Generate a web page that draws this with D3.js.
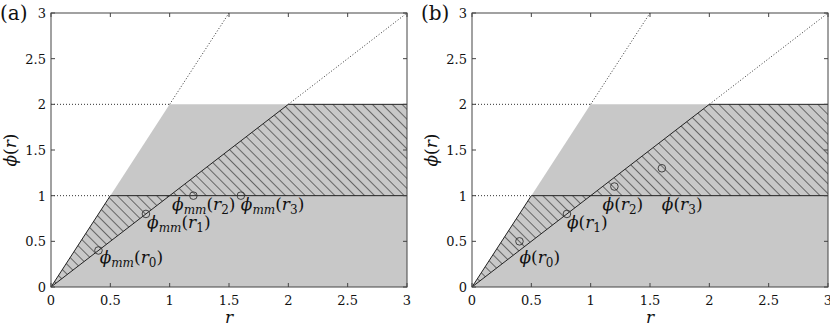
<!DOCTYPE html>
<html>
<head>
<meta charset="utf-8">
<script src="https://d3js.org/d3.v7.min.js"></script>
<style>
body { margin: 0; background: #fff; }
</style>
</head>
<body>
<script>
// data
var ticks = [0, 0.5, 1, 1.5, 2, 2.5, 3];
var tickLabels = ["0", "0.5", "1", "1.5", "2", "2.5", "3"];
var rPoints = [0.4, 0.8, 1.2, 1.6];
var phiA = [0.4, 0.8, 1.0, 1.0];
var phiB = [0.5, 0.8, 1.1, 1.3];
// label anchors (data units)
var labA_r = [0.41, 0.81, 1.02, 1.60];
var labA_phi = [0.26, 0.65, 0.84, 0.84];
var labB_r = [0.40, 0.80, 1.10, 1.60];
var labB_phi = [0.26, 0.65, 0.84, 0.84];
var grayRegion = [[0,0],[0.5,1],[1,2],[3,2],[3,0]];
var hatchLow = [[0,0],[0.5,1],[1,1]];
var hatchHigh = [[1,1],[2,2],[3,2],[3,1]];
var solidLines = [[[0,0],[0.5,1]], [[0,0],[2,2]], [[0.5,1],[3,1]], [[2,2],[3,2]]];
var dottedLines = [[[0,2],[1,2]], [[0,1],[0.5,1]], [[1,2],[1.5,3]], [[2,2],[3,3]]];

var FONT = "DejaVu Serif";

var W = 830, H = 329;
var svg = d3.select("body").append("svg").attr("width", W).attr("height", H);

var defs = svg.append("defs");
defs.append("pattern")
    .attr("id", "hatch")
    .attr("patternUnits", "userSpaceOnUse")
    .attr("width", 7).attr("height", 7)
    .attr("patternTransform", "rotate(-45)")
  .append("line")
    .attr("x1", 0).attr("y1", 0).attr("x2", 0).attr("y2", 7)
    .attr("stroke", "#222").attr("stroke-width", 1.2);

function txt(sel) {
  return sel.append("text").attr("font-family", FONT).attr("fill", "#111");
}

function panel(left, tag, phiVals, labR, labPhi, sub) {
  var x = d3.scaleLinear().domain([0, 3]).range([left, left + 356]);
  var y = d3.scaleLinear().domain([0, 3]).range([287, 13]);
  var g = svg.append("g");
  var line = d3.line().x(function(d){ return x(d[0]); }).y(function(d){ return y(d[1]); });

  g.append("path").attr("d", line(grayRegion) + "Z").attr("fill", "#c8c8c8");
  [hatchLow, hatchHigh].forEach(function(p) {
    g.append("path").attr("d", line(p) + "Z").attr("fill", "url(#hatch)");
  });
  solidLines.forEach(function(s) {
    g.append("path").attr("d", line(s)).attr("stroke", "#222").attr("stroke-width", 1).attr("fill", "none");
  });
  dottedLines.forEach(function(s) {
    g.append("path").attr("d", line(s)).attr("stroke", "#333").attr("stroke-width", 1)
      .attr("stroke-dasharray", "1,2").attr("fill", "none");
  });

  g.selectAll("circle.pt").data(rPoints).enter().append("circle")
    .attr("cx", function(d){ return x(d); })
    .attr("cy", function(d, i){ return y(phiVals[i]); })
    .attr("r", 3.8).attr("fill", "none").attr("stroke", "#333").attr("stroke-width", 0.9);

  rPoints.forEach(function(d, i) {
    var t = txt(g).attr("x", x(labR[i])).attr("y", y(labPhi[i])).attr("font-size", 17);
    t.append("tspan").attr("font-style", "italic").text("\u03d5");
    if (sub) t.append("tspan").attr("font-style", "italic").attr("dy", 4).attr("font-size", 12).text(sub);
    t.append("tspan").attr("dy", sub ? -4 : 0).text("(");
    t.append("tspan").attr("font-style", "italic").text("r");
    t.append("tspan").attr("dy", 4).attr("font-size", 12).text(i);
    t.append("tspan").attr("dy", -4).text(")");
  });

  // frame and inward ticks
  var tl = 4;
  var ax = g.append("g").attr("stroke", "#444").attr("stroke-width", 1);
  ax.append("rect").attr("x", x(0)).attr("y", y(3)).attr("width", x(3) - x(0)).attr("height", y(0) - y(3))
    .attr("fill", "none");
  ticks.forEach(function(t) {
    ax.append("line").attr("x1", x(t)).attr("x2", x(t)).attr("y1", y(0)).attr("y2", y(0) - tl);
    ax.append("line").attr("x1", x(t)).attr("x2", x(t)).attr("y1", y(3)).attr("y2", y(3) + tl);
    ax.append("line").attr("y1", y(t)).attr("y2", y(t)).attr("x1", x(0)).attr("x2", x(0) + tl);
    ax.append("line").attr("y1", y(t)).attr("y2", y(t)).attr("x1", x(3)).attr("x2", x(3) - tl);
  });
  ticks.forEach(function(d, i) {
    txt(g).attr("x", x(d)).attr("y", 305).attr("text-anchor", "middle").attr("font-size", 13)
      .text(tickLabels[i]);
    txt(g).attr("x", x(0) - 5).attr("y", y(d) + 5).attr("text-anchor", "end").attr("font-size", 13)
      .text(tickLabels[i]);
  });

  txt(g).attr("x", x(1.5)).attr("y", 323).attr("text-anchor", "middle")
    .attr("font-style", "italic").attr("font-size", 17).text("r");
  var yl = txt(g).attr("transform", "translate(" + (x(0) - 35) + "," + y(1.5) + ") rotate(-90)")
    .attr("text-anchor", "middle").attr("font-size", 17);
  yl.append("tspan").attr("font-style", "italic").text("\u03d5");
  yl.append("tspan").text("(");
  yl.append("tspan").attr("font-style", "italic").text("r");
  yl.append("tspan").text(")");

  txt(g).attr("x", x(0) - 51).attr("y", 20).attr("font-size", 20).text(tag);
}

panel(51, "(a)", phiA, labA_r, labA_phi, "mm");
panel(472, "(b)", phiB, labB_r, labB_phi, null);
</script>
</body>
</html>
